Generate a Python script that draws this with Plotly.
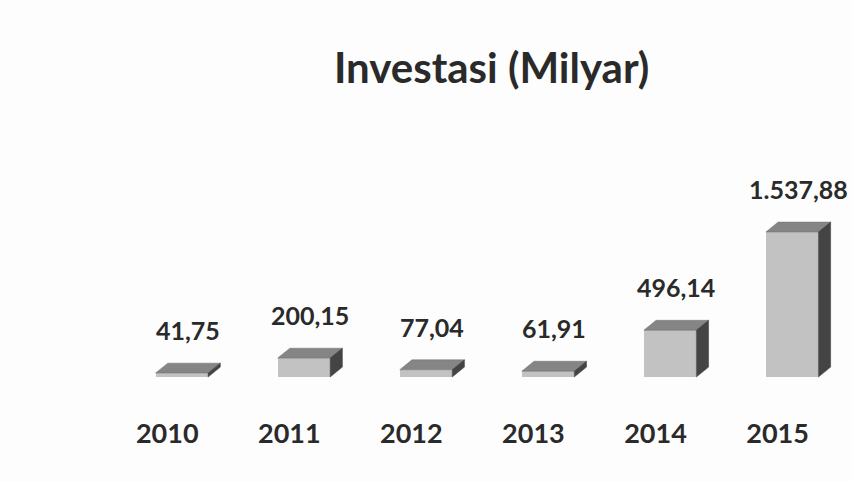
import plotly.graph_objects as go

years = ["2010", "2011", "2012", "2013", "2014", "2015"]
values = [41.75, 200.15, 77.04, 61.91, 496.14, 1537.88]
labels = ["41,75", "200,15", "77,04", "61,91", "496,14", "1.537,88"]

x = list(range(len(years)))
w = 0.43      # bar width (x units)
dx = 0.10     # depth offset x (x units)
dy = 105      # depth offset y (value units)

FONT = "Lato"
TXT = "#2a2a2a"
BG = "#fdfdfd"

fig = go.Figure()
fig.add_trace(go.Bar(x=x, y=values, width=w, marker=dict(color="#c2c2c2", line=dict(width=0)),
                     hoverinfo="skip", showlegend=False))

for xi, v in zip(x, values):
    # top face
    fig.add_trace(go.Scatter(
        x=[xi - w/2, xi + w/2, xi + w/2 + dx, xi - w/2 + dx, xi - w/2],
        y=[v, v, v + dy, v + dy, v],
        mode="lines", fill="toself", fillcolor="#858585",
        line=dict(width=0.5, color="#6e6e6e"), hoverinfo="skip", showlegend=False))
    # side face
    fig.add_trace(go.Scatter(
        x=[xi + w/2, xi + w/2, xi + w/2 + dx, xi + w/2 + dx, xi + w/2],
        y=[0, v, v + dy, dy, 0],
        mode="lines", fill="toself", fillcolor="#444444",
        line=dict(width=0.5, color="#3a3a3a"), hoverinfo="skip", showlegend=False))

for xi, v, t in zip(x, values, labels):
    fig.add_annotation(x=xi + dx/2, y=v + dy, text="<b>%s</b>" % t, showarrow=False,
                       yanchor="bottom", yshift=16,
                       font=dict(family=FONT, size=25, color=TXT))

fig.update_layout(
    width=852, height=482,
    margin=dict(l=0, r=0, t=0, b=67),
    paper_bgcolor=BG, plot_bgcolor=BG,
    title=dict(text="<b>Investasi (Milyar)</b>", x=0.577, xanchor="center",
               y=0.858, yanchor="middle",
               font=dict(family=FONT, size=42, color=TXT)),
    xaxis=dict(range=[-1.49, 5.49], tickmode="array", tickvals=[xi - 0.12 for xi in x],
               ticktext=["<b>%s</b>" % y for y in years], showgrid=False, zeroline=False,
               showline=False, ticks="", ticklen=0,
               tickfont=dict(family=FONT, size=27, color=TXT)),
    yaxis=dict(range=[-403, 3998], visible=False),
    bargap=0,
)

fig.write_html("out.html", config={"displayModeBar": False},
               post_script="document.body.style.margin='0';document.body.style.overflow='hidden';")
